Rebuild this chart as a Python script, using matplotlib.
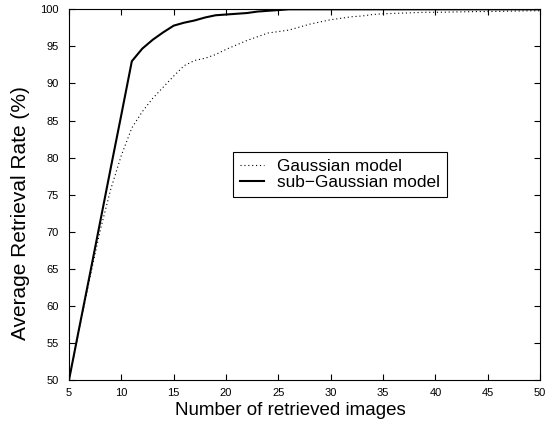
import matplotlib
matplotlib.use("Agg")
import matplotlib.pyplot as plt

plt.rcParams['font.family'] = ['Liberation Sans', 'DejaVu Sans']

# data
n_images = list(range(5, 51))
gaussian = [50.0, 57.0, 63.8, 70.3, 75.8, 80.3, 84.0, 86.2, 88.0, 89.5,
            91.0, 92.4, 93.1, 93.4, 93.9, 94.6, 95.2, 95.8, 96.3, 96.8,
            97.0, 97.2, 97.6, 98.0, 98.3, 98.6, 98.8, 99.0, 99.1, 99.3,
            99.4, 99.45, 99.5, 99.55, 99.6, 99.6, 99.62, 99.65, 99.67, 99.7,
            99.7, 99.72, 99.75, 99.77, 99.8, 99.8]
sub_gaussian = [50.0, 57.2, 64.3, 71.5, 78.7, 85.8, 93.0, 94.7, 95.9, 96.9,
                97.8, 98.2, 98.5, 98.9, 99.2, 99.3, 99.4, 99.5, 99.7, 99.8,
                99.9, 100.0, 100.0, 100.0, 100.0, 100.0, 100.0, 100.0, 100.0, 100.0,
                100.0, 100.0, 100.0, 100.0, 100.0, 100.0, 100.0, 100.0, 100.0, 100.0,
                100.0, 100.0, 100.0, 100.0, 100.0, 100.0]

fig = plt.figure(figsize=(5.53, 4.24), dpi=100)
ax = fig.add_axes([0.1248, 0.104, 0.852, 0.874])

ax.plot(n_images, gaussian, color='black', linewidth=0.8, linestyle=(0, (1, 2.5)),
        label='Gaussian model')
ax.plot(n_images, sub_gaussian, color='black', linewidth=1.5,
        label='sub\u2212Gaussian model')

ax.set_xlim(5, 50)
ax.set_ylim(50, 100)
ax.set_xticks(range(5, 51, 5))
ax.set_yticks(range(50, 101, 5))
ax.tick_params(direction='in', top=True, right=True, labelsize=8, length=4, width=0.8)
ax.tick_params(axis='x', pad=5.5)
ax.tick_params(axis='y', pad=7.5)
for s in ax.spines.values():
    s.set_linewidth(0.8)

ax.set_xlabel('Number of retrieved images', fontsize=13.5)
ax.set_ylabel('Average Retrieval Rate (%)', fontsize=15)
ax.xaxis.set_label_coords(0.469, -0.059)
ax.yaxis.set_label_coords(-0.083, 0.45)

leg = ax.legend(loc='upper left', bbox_to_anchor=(0.348, 0.615), fontsize=12.4,
                frameon=True, fancybox=False, framealpha=1, edgecolor='black',
                borderpad=0.4, handlelength=1.4, handletextpad=0.75,
                labelspacing=0.05, borderaxespad=0)
leg.get_frame().set_linewidth(0.8)

fig.savefig('out.png', dpi=100)
